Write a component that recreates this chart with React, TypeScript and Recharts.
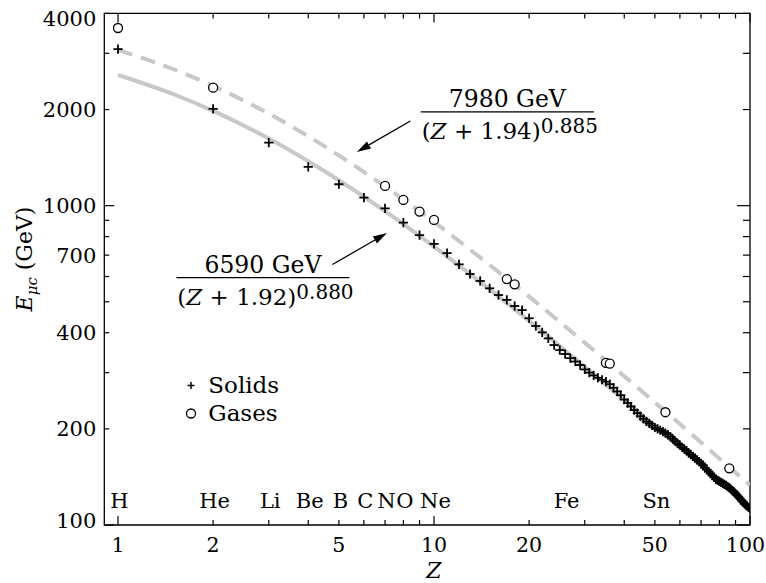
import React from "react";
import {
  ComposedChart,
  XAxis,
  YAxis,
  Line,
  Scatter,
  Legend,
  ReferenceArea,
  ReferenceDot,
  ReferenceLine,
} from "recharts";

// muon critical energy vs Z
const SOLID_Z = [
  1, 2, 3, 4, 5, 6, 7, 8, 9, 10, 11, 12, 13, 14, 15, 16, 17, 18, 19, 20,
  21, 22, 23, 24, 25, 26, 27, 28, 29, 30, 31, 32, 33, 34, 35, 36, 37, 38, 39, 40,
  41, 42, 43, 44, 45, 46, 47, 48, 49, 50, 51, 52, 53, 54, 55, 56, 57, 58, 59, 60,
  61, 62, 63, 64, 65, 66, 67, 68, 69, 70, 71, 72, 73, 74, 75, 76, 77, 78, 79, 80,
  81, 82, 83, 84, 85, 86, 87, 88, 89, 90, 91, 92, 93, 94, 95, 96, 97, 98, 99, 100,
];
const SOLID_E = [
  3090, 2009, 1575, 1322, 1167, 1059, 980, 885, 809, 759,
  710, 655, 611, 581, 551, 525, 507, 485, 471, 444,
  420, 401, 384, 366, 353, 343, 333, 325, 317, 307,
  300, 294, 289, 285, 281, 276, 269, 262, 255, 247,
  241, 235, 229, 224, 219, 215, 211, 208, 205, 202,
  200, 198, 196, 194, 192, 189, 186, 183, 180, 178,
  175, 173, 171, 168, 166, 164, 162, 160, 158, 156,
  154, 151, 149, 147, 145, 143, 141, 139, 138, 137,
  136, 135, 134, 133, 132, 131, 129.5, 128, 127, 125.5,
  124, 122.5, 121, 119.5, 118, 116.5, 115.5, 114.5, 113.5, 112.5,
];
const GAS_Z = [1, 2, 7, 8, 9, 10, 17, 18, 35, 36, 54, 86];
const GAS_E = [3600, 2342, 1153, 1042, 958, 902, 589, 567, 322, 320, 225.5, 150.5];

// fit curves as printed on the chart
const FIT_Z = [1, 1.5, 2, 3, 4, 5, 7, 10, 15, 20, 30, 40, 50, 70, 100];
const SOLID_FIT_E = [2566, 2233, 1981, 1622, 1378, 1201, 961, 744, 547, 435.5, 312.8, 246.2, 203.9, 153.1, 112.6];
const GAS_FIT_E = [3073, 2674, 2371, 1941, 1649, 1437, 1148, 889, 652, 519, 372, 292.4, 242, 181.4, 133.2];

const X_DOMAIN = [0.905, 100];
const Y_DOMAIN = [100, 4000];
const X_TICKS = [1, 2, 3, 4, 5, 6, 7, 8, 9, 10, 20, 30, 40, 50, 60, 70, 80, 90, 100];
const X_LABELS = [1, 2, 5, 10, 20, 50, 100];
const Y_TICKS = [100, 200, 300, 400, 500, 600, 700, 800, 900, 1000, 2000, 3000, 4000];
const Y_LABELS = [100, 200, 400, 700, 1000, 2000, 4000];
const ELEMENT_Z = [1, 2, 3, 4, 5, 6, 7, 8, 10, 26, 50];
const ELEMENT_NAMES = ["H", "He", "Li", "Be", "B", "C", "N", "O", "Ne", "Fe", "Sn"];
const LEGEND_ITEMS = ["Solids", "Gases"];

// annotation anchors (Z, E)
const GAS_FORMULA = { z: 17.06, e: 1966, num: "7980 GeV", base: "1.94", exp: "0.885" };
const SOLID_FORMULA = { z: 2.875, e: 595, num: "6590 GeV", base: "1.92", exp: "0.880" };
const GAS_ARROW = [{ x: 8.42, y: 1842 }, { x: 5.7, y: 1473 }];
const SOLID_ARROW = [{ x: 4.77, y: 654 }, { x: 7.1, y: 821 }];

const solids = SOLID_Z.map((z, i) => ({ z, e: SOLID_E[i] }));
const gases = GAS_Z.map((z, i) => ({ z, e: GAS_E[i] }));
const solidFit = FIT_Z.map((z, i) => ({ z, e: SOLID_FIT_E[i] }));
const gasFit = FIT_Z.map((z, i) => ({ z, e: GAS_FIT_E[i] }));
const allXTicks = Array.from(new Set([...X_TICKS, ...ELEMENT_Z])).sort((a, b) => a - b);

const FONT = "DejaVu Serif";
const TXT = { fontFamily: FONT };
const PLOT = { left: 104.3, right: 750, top: 13.4, bottom: 525 };
const GRAY = "#c8c8c8";

function XTick(props: any) {
  const { x, payload } = props;
  const v = payload.value;
  const len = v === 1 || v === 10 || v === 100 ? 9 : 5;
  const el = ELEMENT_Z.indexOf(v);
  return (
    <g>
      {X_TICKS.includes(v) && (
        <g stroke="#000" strokeWidth={1.2}>
          <line x1={x} x2={x} y1={PLOT.bottom} y2={PLOT.bottom - len} />
          <line x1={x} x2={x} y1={PLOT.top} y2={PLOT.top + len} />
        </g>
      )}
      {X_LABELS.includes(v) && (
        <text
          x={v === 100 ? 765 : x}
          y={PLOT.bottom + 26.5}
          textAnchor={v === 100 ? "end" : "middle"}
          fontSize={20.5}
          style={TXT}
          fill="#000"
        >
          {v}
        </text>
      )}
      {el >= 0 && (
        <text x={x + 1.5} y={PLOT.bottom - 16.7} textAnchor="middle" fontSize={21} style={TXT} fill="#000">
          {ELEMENT_NAMES[el]}
        </text>
      )}
    </g>
  );
}

function YTick(props: any) {
  const { y, payload } = props;
  const v = payload.value;
  const major = v === 100 || v === 1000;
  let shift = 0;
  if (v === 4000) shift = 4.5;
  if (v === 100) shift = -4.3;
  return (
    <g>
      <line x1={PLOT.left} x2={PLOT.left + (major ? 10 : 5)} y1={y} y2={y} stroke="#000" strokeWidth={1.2} />
      <line x1={PLOT.right} x2={PLOT.right - (major ? 13 : 7)} y1={y} y2={y} stroke="#000" strokeWidth={1.2} />
      {Y_LABELS.includes(v) && (
        <text x={PLOT.left - 8} y={y + 7.6 + shift} textAnchor="end" fontSize={21} style={TXT} fill="#000">
          {v}
        </text>
      )}
    </g>
  );
}

const PlusShape = (props: any) => {
  const { cx, cy } = props;
  return (
    <g stroke="#000" strokeWidth={1.8}>
      <line x1={cx - 4.6} x2={cx + 4.6} y1={cy} y2={cy} />
      <line x1={cx} x2={cx} y1={cy - 4.6} y2={cy + 4.6} />
    </g>
  );
};

const CircleShape = (props: any) => {
  const { cx, cy } = props;
  return <circle cx={cx} cy={cy} r={4.5} fill="#fff" stroke="#000" strokeWidth={1.3} />;
};

const Arrow = (props: any) => {
  const { x1, y1, x2, y2 } = props;
  const dx = x2 - x1;
  const dy = y2 - y1;
  const len = Math.hypot(dx, dy);
  const ux = dx / len;
  const uy = dy / len;
  const bx = x2 - ux * 14;
  const by = y2 - uy * 14;
  const pts = `${x2},${y2} ${bx - uy * 4},${by + ux * 4} ${bx + uy * 4},${by - ux * 4}`;
  return (
    <g>
      <line x1={x1} y1={y1} x2={bx} y2={by} stroke="#000" strokeWidth={1.3} />
      <polygon points={pts} fill="#000" />
    </g>
  );
};

const makeFraction = (f: typeof GAS_FORMULA) => (props: any) => {
  const { cx, cy } = props;
  return (
    <g>
      <text x={cx} y={cy - 5} textAnchor="middle" fontSize={23.5} style={TXT} fill="#000">
        {f.num}
      </text>
      <line x1={cx - 86.5} x2={cx + 86.5} y1={cy} y2={cy} stroke="#000" strokeWidth={1.3} />
      <text x={cx + 2.5} y={cy + 27.5} textAnchor="middle" fontSize={23} style={TXT} fill="#000">
        (<tspan fontStyle="italic">Z</tspan> + {f.base})
        <tspan fontSize={20} dy={-6}>
          {f.exp}
        </tspan>
      </text>
    </g>
  );
};

const renderLegend = () => (
  <div style={{ fontFamily: FONT, fontSize: 23, color: "#000" }}>
    {LEGEND_ITEMS.map((name) => (
      <div key={name} style={{ display: "flex", alignItems: "center", height: 27.3, lineHeight: "27px" }}>
        <svg width={22} height={27}>
          {name === "Solids" ? (
            <g stroke="#000" strokeWidth={1.5}>
              <line x1={7.5} x2={14.5} y1={13.5} y2={13.5} />
              <line x1={11} x2={11} y1={10} y2={17} />
            </g>
          ) : (
            <circle cx={11} cy={13.5} r={4.5} fill="#fff" stroke="#000" strokeWidth={1.3} />
          )}
        </svg>
        <span style={{ marginLeft: 6.6, fontFamily: FONT }}>{name}</span>
      </div>
    ))}
  </div>
);

export default function App() {
  return (
    <div style={{ position: "absolute", left: 0, top: 0, width: 766, height: 583, background: "#fff" }}>
      <ComposedChart width={766} height={583} margin={{ top: 13.4, right: 16, bottom: 28, left: 0 }}>
        <XAxis
          dataKey="z"
          type="number"
          scale="log"
          domain={X_DOMAIN}
          allowDataOverflow
          ticks={allXTicks}
          interval={0}
          tick={XTick}
          tickLine={false}
          axisLine={false}
          height={30}
          label={{
            content: () => (
              <text x={434} y={577.5} textAnchor="middle" fontSize={22} fontStyle="italic" style={TXT} fill="#000">
                Z
              </text>
            ),
          }}
        />
        <YAxis
          dataKey="e"
          type="number"
          scale="log"
          domain={Y_DOMAIN}
          allowDataOverflow
          ticks={Y_TICKS}
          interval={0}
          tick={YTick}
          tickLine={false}
          axisLine={false}
          width={104.3}
          label={{
            content: () => (
              <text
                transform="translate(32,259) rotate(-90)"
                textAnchor="middle"
                fontSize={22}
                style={TXT}
                fill="#000"
              >
                <tspan fontStyle="italic">E</tspan>
                <tspan fontSize={15} dy={5} fontStyle="italic">
                  μc
                </tspan>
                <tspan dy={-5}> (GeV)</tspan>
              </text>
            ),
          }}
        />
        <ReferenceArea
          x1={X_DOMAIN[0]}
          x2={X_DOMAIN[1]}
          y1={Y_DOMAIN[0]}
          y2={Y_DOMAIN[1]}
          fill="none"
          stroke="#000"
          strokeWidth={1.3}
        />
        <Line
          data={solidFit}
          dataKey="e"
          type="monotone"
          stroke={GRAY}
          strokeWidth={4}
          dot={false}
          activeDot={false}
          legendType="none"
          isAnimationActive={false}
        />
        <Line
          data={gasFit}
          dataKey="e"
          type="monotone"
          stroke={GRAY}
          strokeWidth={4}
          strokeDasharray="15 9"
          dot={false}
          activeDot={false}
          legendType="none"
          isAnimationActive={false}
        />
        <Scatter name="Solids" data={solids} dataKey="e" shape={PlusShape} isAnimationActive={false} />
        <Scatter name="Gases" data={gases} dataKey="e" shape={CircleShape} isAnimationActive={false} />
        <ReferenceLine segment={GAS_ARROW} shape={Arrow} />
        <ReferenceLine segment={SOLID_ARROW} shape={Arrow} />
        <ReferenceDot x={GAS_FORMULA.z} y={GAS_FORMULA.e} shape={makeFraction(GAS_FORMULA)} />
        <ReferenceDot x={SOLID_FORMULA.z} y={SOLID_FORMULA.e} shape={makeFraction(SOLID_FORMULA)} />
        <Legend
          layout="vertical"
          align="center"
          verticalAlign="middle"
          content={renderLegend}
          wrapperStyle={{ left: 179.7, top: 372.3, width: "auto" }}
        />
      </ComposedChart>
    </div>
  );
}
